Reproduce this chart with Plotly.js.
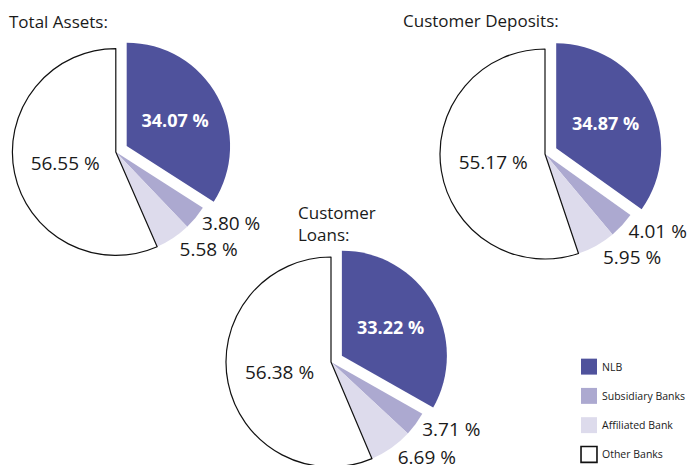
<!DOCTYPE html>
<html><head><meta charset="utf-8">
<script src="https://cdn.plot.ly/plotly-3.0.1.min.js"></script>
<style>
html,body{margin:0;padding:0;overflow:hidden;background:#fff}
#chart{width:693px;height:520px}
path.textline{display:none}
.legendpoints path{transform:translate(20px,0) scale(1.33)}
.legendtext{transform:translateX(-7px)}
</style>
</head><body><div id="chart"></div>
<script>
const categories = ['NLB', 'Subsidiary Banks', 'Affiliated Bank', 'Other Banks'];
const totalAssets = [34.07, 3.80, 5.58, 56.55];
const customerDeposits = [34.87, 4.01, 5.95, 55.17];
const customerLoans = [33.22, 3.71, 6.69, 56.38];
const chartTitles = ['Total Assets:', 'Customer Deposits:', 'Customer<br>Loans:'];

const W = 693, H = 520;
const PULL = 0.12;
const sliceColors = ['#4f529c', '#aca9d0', '#dddbec', '#ffffff'];
const lineColors = ['rgba(0,0,0,0)', 'rgba(0,0,0,0)', 'rgba(0,0,0,0)', '#111111'];
const lineWidths = [0, 0, 0, 1.2];
const pullArr = [PULL, 0, 0, 0];
const R = 105;
const labels = categories.map(c => '<span style="font-size:10.5px;baseline-shift:4.5px">' + c + '</span>');

function dom(cx, cy, r) {
  const h = r * (1 + PULL);
  return {x: [(cx - h) / W, (cx + h) / W], y: [(H - cy - h) / H, (H - cy + h) / H]};
}
function fmt(vals) {
  return vals.map((v, i) => i === 0 ? '<b>' + v.toFixed(2) + ' %</b>' : v.toFixed(2) + ' %');
}
function pie(vals, d) {
  return {
    type: 'pie', values: vals, labels: labels, sort: false, direction: 'clockwise', rotation: 0,
    pull: pullArr, domain: d, text: fmt(vals), textinfo: 'text',
    textposition: ['inside', 'outside', 'outside', 'inside'],
    insidetextorientation: 'horizontal',
    textfont: {family: 'Open Sans, sans-serif', size: [18, 19, 19, 19], color: ['#ffffff', '#1a1a1a', '#1a1a1a', '#1a1a1a']},
    marker: {colors: sliceColors, line: {color: lineColors, width: lineWidths}},
    hoverinfo: 'skip', showlegend: true
  };
}
const data = [
  pie(totalAssets, dom(114, 152, R)),
  pie(customerDeposits, dom(545, 154, R)),
  pie(customerLoans, dom(331, 362, R))
];
const tfont = {family: 'Open Sans, sans-serif', size: 17, color: '#1a1a1a'};
const layout = {
  width: W, height: H, margin: {l: 0, r: 0, t: 0, b: 0, autoexpand: false},
  paper_bgcolor: '#fff', plot_bgcolor: '#fff',
  showlegend: true,
  legend: {x: 569 / W, y: 1 - 347 / H, xanchor: 'left', yanchor: 'top', font: {family: 'Open Sans, sans-serif', size: 20.2, color: '#1a1a1a'}, bgcolor: 'rgba(0,0,0,0)'},
  annotations: [
    {text: chartTitles[0], x: 7 / W, y: 1 - 22 / H, xref: 'paper', yref: 'paper', xanchor: 'left', yanchor: 'middle', showarrow: false, font: tfont, align: 'left'},
    {text: chartTitles[1], x: 401 / W, y: 1 - 21 / H, xref: 'paper', yref: 'paper', xanchor: 'left', yanchor: 'middle', showarrow: false, font: tfont, align: 'left'},
    {text: chartTitles[2], x: 296 / W, y: 1 - 223 / H, xref: 'paper', yref: 'paper', xanchor: 'left', yanchor: 'middle', showarrow: false, font: tfont, align: 'left'}
  ]
};
Plotly.newPlot('chart', data, layout, {displayModeBar: false, staticPlot: true});
</script></body></html>
